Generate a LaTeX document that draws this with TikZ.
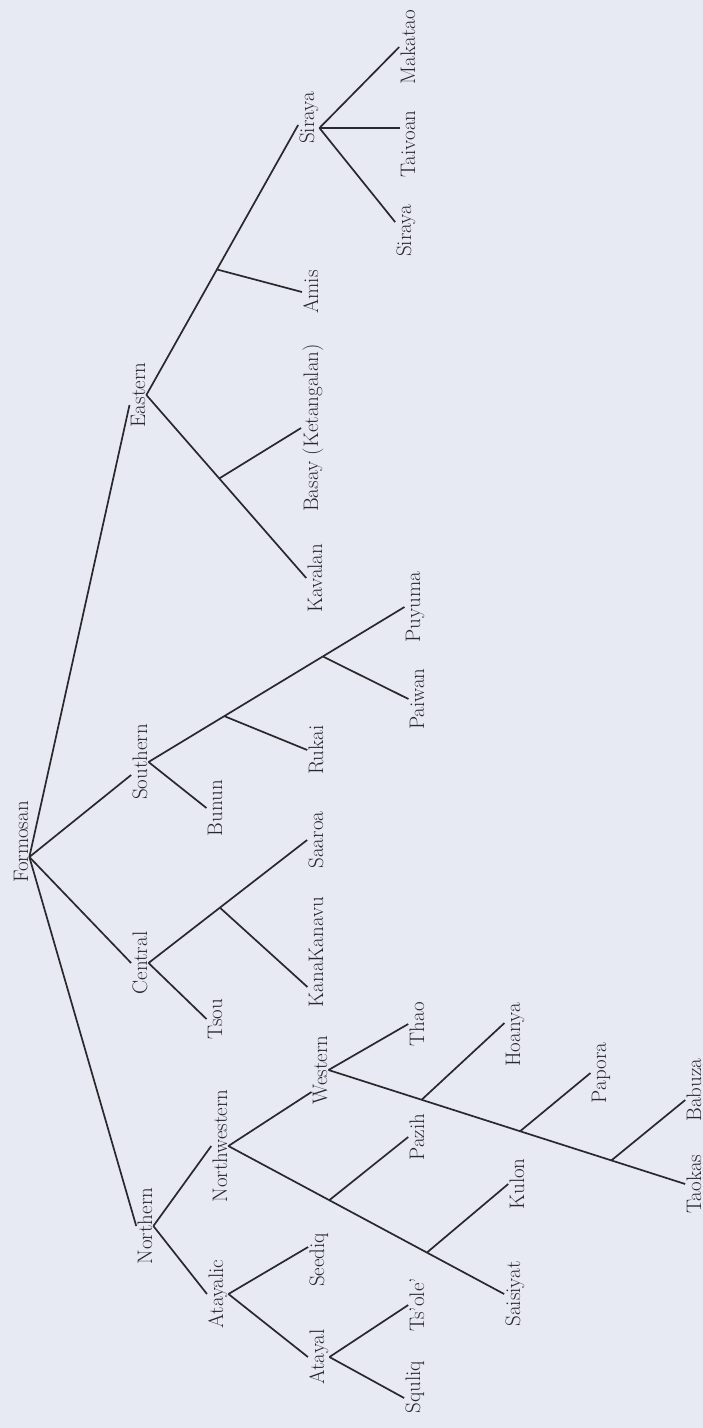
\documentclass[tikz,border=0pt]{standalone}
\usepackage{fontspec}
\usepackage{xcolor}
\usepackage{tikz}

\definecolor{paper}{RGB}{232,234,243}
\definecolor{ink}{RGB}{40,40,45}

\begin{document}
\begin{tikzpicture}[
    x=1pt, y=-1pt,
    lang/.style={rotate=90, anchor=base, inner sep=1pt, text=ink, font=\fontsize{21}{25}\selectfont},
    line/.style={draw=ink, line width=1.7pt}
]
\useasboundingbox (0,0) rectangle (703,1428);
\fill[paper] (0,0) rectangle (703,1428);

\node[lang] (formosan) at (28,842) {Formosan};
\node[lang] (eastern) at (145,395) {Eastern};
\node[lang] (southern) at (147,762) {Southern};
\node[lang] (central) at (147,963) {Central};
\node[lang] (northern) at (152,1226) {Northern};

\node[lang] (sirayagrp) at (314,118) {Siraya};
\node[lang] (amis) at (318,292) {Amis};
\node[lang] (basay) at (318,428) {Basay (Ketangalan)};
\node[lang] (kavalan) at (322,578) {Kavalan};
\node[lang] (makatao) at (415,47) {Makatao};
\node[lang] (taivoan) at (415,144) {Taivoan};
\node[lang] (siraya) at (411,231) {Siraya};

\node[lang] (bunun) at (222,808) {Bunun};
\node[lang] (rukai) at (323,750) {Rukai};
\node[lang] (puyuma) at (420,607) {Puyuma};
\node[lang] (paiwan) at (424,699) {Paiwan};

\node[lang] (tsou) at (222,1019) {Tsou};
\node[lang] (saaroa) at (323,840) {Saaroa};
\node[lang] (kanakanavu) at (323,952) {KanaKanavu};

\node[lang] (northwestern) at (227,1146) {Northwestern};
\node[lang] (atayalic) at (223,1294) {Atayalic};
\node[lang] (western) at (327,1070) {Western};
\node[lang] (seediq) at (324,1260) {Seediq};
\node[lang] (atayal) at (324,1357) {Atayal};
\node[lang] (thao) at (424,1024) {Thao};
\node[lang] (pazih) at (424,1137) {Pazih};
\node[lang] (tsole) at (424,1305) {Ts'ole'};
\node[lang] (squliq) at (420,1387) {Squliq};
\node[lang] (hoanya) at (520,1035) {Hoanya};
\node[lang] (kulon) at (524,1184) {Kulon};
\node[lang] (saisiyat) at (520,1294) {Saisiyat};
\node[lang] (papora) at (606,1073) {Papora};
\node[lang] (babuza) at (701,1090) {Babuza};
\node[lang] (taokas) at (701,1184) {Taokas};

\coordinate (root) at ([yshift=-15pt]formosan.south);
\draw[line] (root) -- ([yshift=-10pt]eastern.north);
\draw[line] (root) -- ([yshift=-13pt]southern.north);
\draw[line] (root) -- (central.north);
\draw[line] (root) -- (northern.north);

\draw[line] (eastern.south) -- coordinate[pos=0.465] (amisbr) ([yshift=-7pt]sirayagrp.north);
\draw[line] (amisbr) -- (amis.north);
\draw[line] (eastern.south) -- coordinate[pos=0.456] (basaybr) (kavalan.north);
\draw[line] (basaybr) -- (basay.north);
\draw[line] ([yshift=-10pt]sirayagrp.south) -- (makatao.north);
\draw[line] ([yshift=-10pt]sirayagrp.south) -- ([yshift=16pt]taivoan.north);
\draw[line] ([yshift=-10pt]sirayagrp.south) -- ([yshift=9pt]siraya.north);

\draw[line] (southern.south) -- (bunun.north);
\draw[line] (southern.south) -- coordinate[pos=0.296] (rukaibr) coordinate[pos=0.681] (paiwanbr) (puyuma.north);
\draw[line] (rukaibr) -- (rukai.north);
\draw[line] (paiwanbr) -- (paiwan.north);

\draw[line] (central.south) -- (tsou.north);
\draw[line] (central.south) -- coordinate[pos=0.45] (kanabr) (saaroa.north);
\draw[line] (kanabr) -- ([yshift=-35pt]kanakanavu.north);

\draw[line] (northern.south) -- (northwestern.north);
\draw[line] (northern.south) -- (atayalic.north);
\draw[line] (northwestern.south) -- ([yshift=-22pt]western.north);
\draw[line] (northwestern.south) -- coordinate[pos=0.366] (pazihbr) coordinate[pos=0.72] (kulonbr) (saisiyat.north);
\draw[line] (pazihbr) -- (pazih.north);
\draw[line] (kulonbr) -- (kulon.north);
\draw[line] (atayalic.south) -- ([yshift=13pt]seediq.north);
\draw[line] (atayalic.south) -- (atayal.north);
\draw[line] (atayal.south) -- (tsole.north);
\draw[line] (atayal.south) -- ([yshift=-11pt]squliq.north);
\draw[line] (western.south) -- (thao.north);
\draw[line] (western.south) -- coordinate[pos=0.261] (hoanyabr) coordinate[pos=0.537] (paporabr) coordinate[pos=0.793] (babuzabr) (taokas.north);
\draw[line] (hoanyabr) -- ([yshift=12pt]hoanya.north);
\draw[line] (paporabr) -- (papora.north);
\draw[line] (babuzabr) -- ([yshift=-10pt]babuza.north);
\end{tikzpicture}
\end{document}
